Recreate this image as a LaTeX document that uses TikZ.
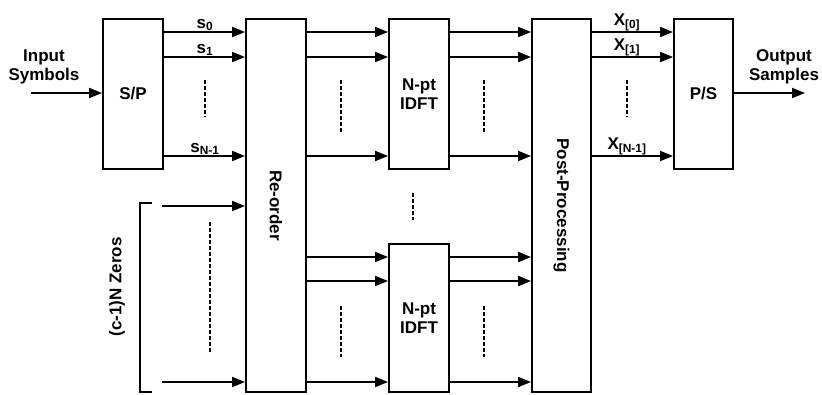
\documentclass[tikz,border=0pt]{standalone}
\usepackage{fontspec}
\setmainfont{Liberation Sans}
\usetikzlibrary{arrows.meta}
\begin{document}
\begin{tikzpicture}[x=1pt,y=-1pt,
    font=\fontsize{17}{19.5}\selectfont\bfseries,
    blk/.style={draw,line width=1.9pt,inner sep=0pt,minimum width=60pt},
    arr/.style={line width=1.9pt,-{Triangle[length=13pt,width=10pt]}},
    vdots/.style={line width=2.6pt,dash pattern=on 3.5pt off 2.5pt},
    lbl/.style={above,inner sep=1pt}]
    \useasboundingbox (0,0) rectangle (822,394);
    % blocks
    \node[blk,minimum height=150pt] (sp) at (133,94) {S/P};
    \node[blk,minimum height=373pt] (ro) at (276,205.5) {};
    \node[rotate=-90] at (ro.center) {Re-order};
    \node[blk,minimum height=150pt,align=center] (fft1) at (419,94) {N-pt\\IDFT};
    \node[blk,minimum height=148pt,align=center] (fft2) at (419,318) {N-pt\\IDFT};
    \node[blk,minimum width=59pt,minimum height=373pt] (pp) at (561.5,205.5) {};
    \node[rotate=-90] at (pp.center) {Post-Processing};
    \node[blk,minimum width=59pt,minimum height=150pt] (ps) at (703.5,94) {P/S};
    % input / output
    \node[align=center] (in) at (44,67) {Input\\Symbols};
    \node[align=center] (out) at (784,67) {Output\\Samples};
    \coordinate (ins) at (31,93);
    \coordinate (oute) at (805,93);
    \draw[arr] (ins) -- (sp.west |- ins);
    \draw[arr] (ps.east |- oute) -- (oute);
    % parallel lines
    \foreach \y in {32,57,156} {
        \draw[arr] (sp.east |- 0,\y) -- (ro.west |- 0,\y);
        \draw[arr] (ro.east |- 0,\y) -- (fft1.west |- 0,\y);
        \draw[arr] (fft1.east |- 0,\y) -- (pp.west |- 0,\y);
        \draw[arr] (pp.east |- 0,\y) -- (ps.west |- 0,\y);
    }
    \foreach \y in {257,281,382} {
        \draw[arr] (ro.east |- 0,\y) -- (fft2.west |- 0,\y);
        \draw[arr] (fft2.east |- 0,\y) -- (pp.west |- 0,\y);
    }
    % zeros
    \coordinate (z1) at (162,206);
    \coordinate (z2) at (162,382);
    \draw[arr] (z1) -- (ro.west |- z1);
    \draw[arr] (z2) -- (ro.west |- z2);
    \draw[line width=1.9pt] (152,203) -- (140,203) -- (140,392) -- (152,392);
    \node[rotate=90] (zlbl) at (117,287) {(c-1)N Zeros};
    % labels
    \node[lbl] at (205,32) {s\textsubscript{0}};
    \node[lbl] at (205,57) {s\textsubscript{1}};
    \node[lbl] at (205,156) {s\textsubscript{N-1}};
    \node[lbl] at (627,32) {X\textsubscript{[0]}};
    \node[lbl] at (627,57) {X\textsubscript{[1]}};
    \node[lbl] at (627,156) {X\textsubscript{[N-1]}};
    % dots
    \draw[vdots] (205,80) -- (205,117);
    \draw[vdots] (627,80) -- (627,117);
    \draw[vdots] (341,80) -- (341,133);
    \draw[vdots] (484,80) -- (484,133);
    \draw[vdots] (413,193) -- (413,220);
    \draw[vdots] (341,306) -- (341,357);
    \draw[vdots] (484,306) -- (484,357);
    \draw[vdots] (210,222) -- (210,353);
\end{tikzpicture}
\end{document}
